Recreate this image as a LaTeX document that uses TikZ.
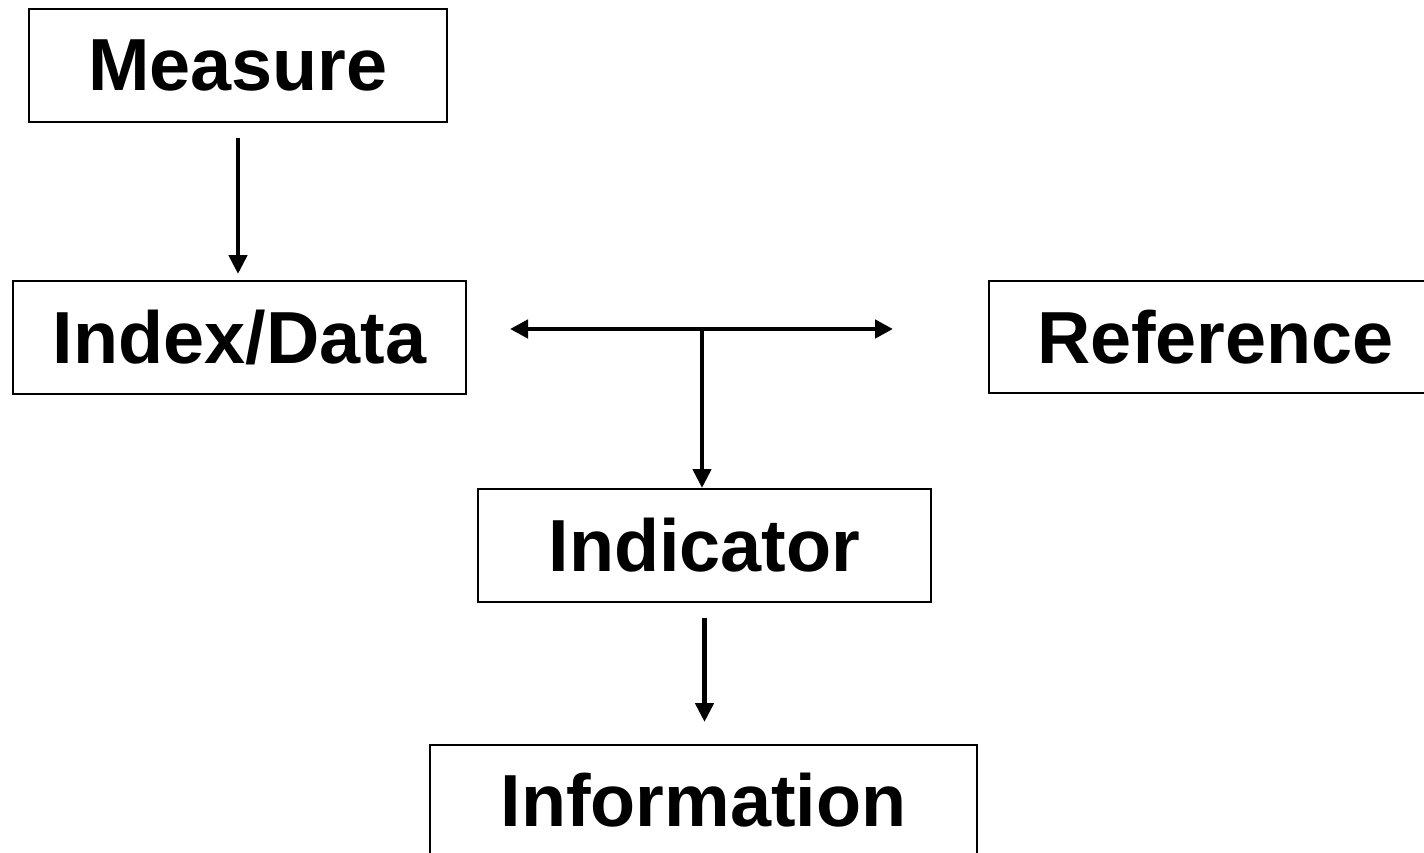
\documentclass[tikz,border=0pt]{standalone}
\usepackage{fontspec}
\setmainfont{Liberation Sans}
\usepackage{xcolor}
\usepackage{tikz}
\usetikzlibrary{arrows.meta}
\definecolor{ink}{HTML}{000000}
\tikzset{
  stageBox/.style={draw=ink, line width=1.1pt, inner sep=0pt, align=center,
    font=\fontsize{42}{50}\selectfont\bfseries, text=ink},
  flowArr/.style={draw=ink, line width=2.6pt,
    -{Triangle[length=3.8mm, width=3.6mm]}},
  twoArr/.style={draw=ink, line width=2.8pt,
    {Triangle[length=3.6mm, width=3.6mm]}-{Triangle[length=3.6mm, width=3.6mm]}},
}
\newcommand{\LinkCoords}{%
  \coordinate (L) at (10.20,10.48);
  \coordinate (R) at (17.86,10.48);
  \coordinate (J) at (14.04,10.48); % junction of the T
}
\begin{document}
\begin{tikzpicture}
  \useasboundingbox (0,0) rectangle (28.48,17.06);

  \node[stageBox, minimum width=8.36cm, minimum height=2.26cm] (measure) at (4.76,15.75) {Measure};
  \node[stageBox, minimum width=9.06cm, minimum height=2.26cm] (index) at (4.79,10.31) {Index/Data};
  \node[stageBox, minimum width=9.06cm, minimum height=2.24cm] (ref) at (24.31,10.32) {Reference};
  \node[stageBox, minimum width=9.06cm, minimum height=2.26cm] (indic) at (14.09,6.15) {Indicator};
  \node[stageBox, minimum width=10.94cm, minimum height=2.2cm] (info) at (14.07,1.06) {Information};

  \LinkCoords
  \draw[flowArr, shorten <=0.3cm, shorten >=0.12cm] (measure.south) -- (measure.south |- index.north);
  \draw[twoArr] (L) -- (R);
  \draw[flowArr] (J) -- (J |- indic.north);
  \draw[flowArr, shorten <=0.3cm, shorten >=0.44cm] (indic.south) -- (indic.south |- info.north);
\end{tikzpicture}
\end{document}
